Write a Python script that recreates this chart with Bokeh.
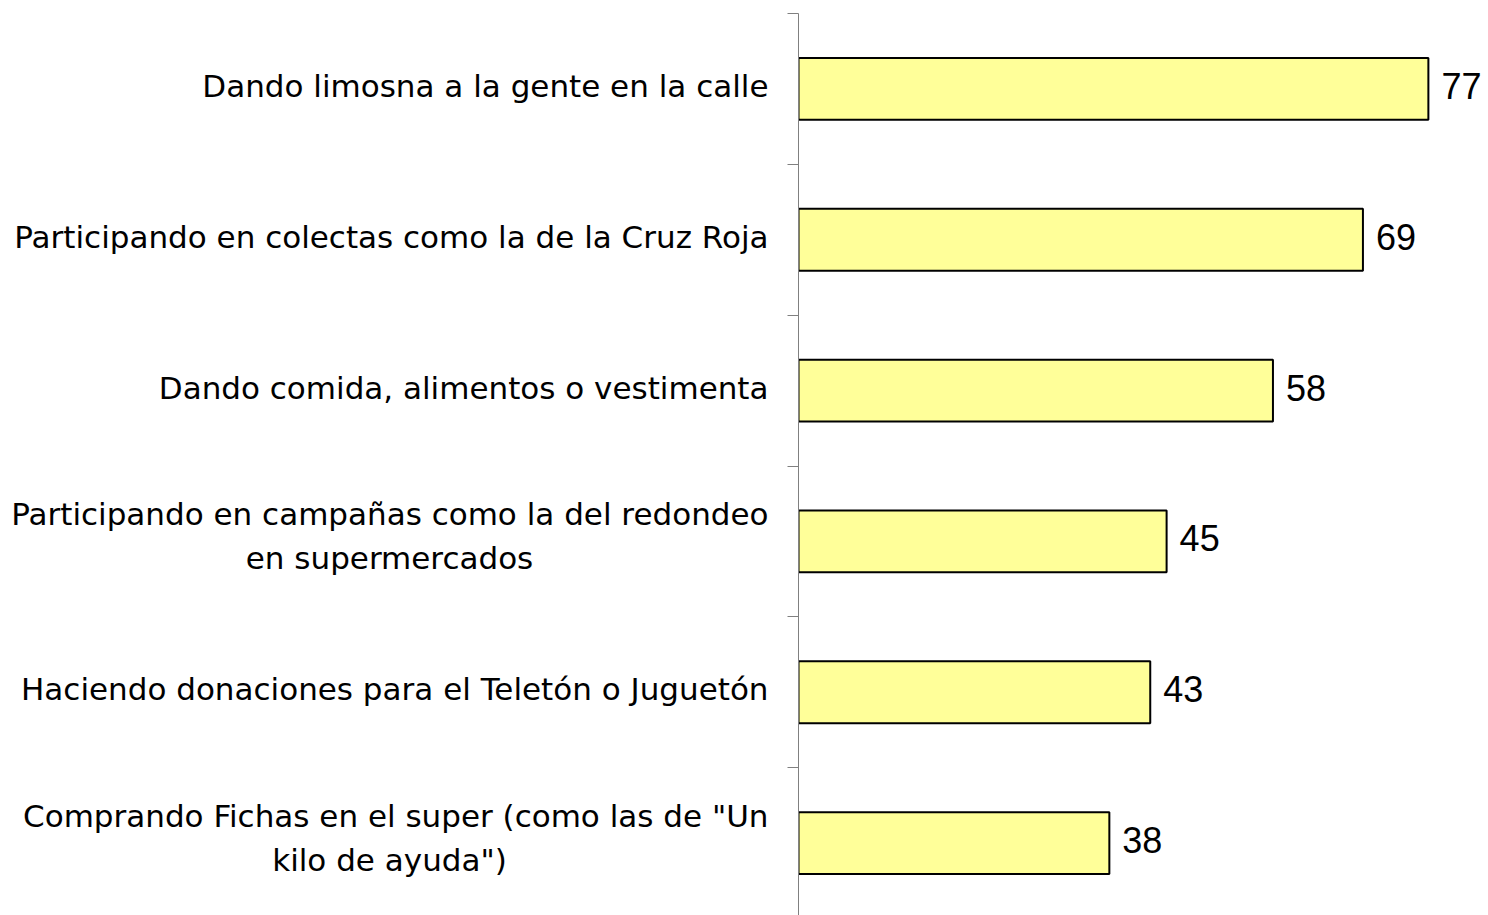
from bokeh.plotting import figure
from bokeh.layouts import row
from bokeh.models import Range1d, FixedTicker, ColumnDataSource
from bokeh.core.properties import value
from bokeh.embed import file_html
from bokeh.resources import INLINE

categories = [
    "Dando limosna a la gente en la calle",
    "Participando en colectas como la de la Cruz Roja",
    "Dando comida, alimentos o vestimenta",
    "Participando en campañas como la del redondeo\nen supermercados",
    "Haciendo donaciones para el Teletón o Juguetón",
    "Comprando Fichas en el super (como las de \"Un\nkilo de ayuda\")",
]
values = [77, 69, 58, 45, 43, 38]
value_labels = [str(v) for v in values]

n = len(categories)
ypos = [n - 1 - i for i in range(n)]

source = ColumnDataSource(dict(y=ypos, values=values, labels=value_labels))

# split category labels into single-line and two-line parts
single = dict(y=[], text=[])
first = dict(y=[], text=[])
second = dict(y=[], text=[])
for cat, y in zip(categories, ypos):
    parts = cat.split("\n")
    if len(parts) == 1:
        single["y"].append(y); single["text"].append(parts[0])
    else:
        first["y"].append(y); first["text"].append(parts[0])
        second["y"].append(y); second["text"].append(parts[1])
for d in (single, first, second):
    d["x"] = [0] * len(d["y"])

y_range = Range1d(-0.48, n - 0.5)

# left panel: category labels
lp = figure(width=778, height=915, output_backend="svg", toolbar_location=None,
            x_range=Range1d(-1, 0), y_range=y_range,
            x_axis_location=None, y_axis_location=None,
            min_border_left=0, min_border_right=0, min_border_top=13, min_border_bottom=0)
lp.outline_line_color = None
lp.xgrid.visible = False
lp.ygrid.visible = False
lp.background_fill_color = "white"
lp.border_fill_color = "white"

font_kw = dict(text_font=value("DejaVu Sans"), text_font_size="31px", text_color="black",
               text_baseline="middle")
lp.text(x="x", y="y", text="text", source=ColumnDataSource(single),
        x_offset=-10, y_offset=-3, text_align="right", **font_kw)
lp.text(x="x", y="y", text="text", source=ColumnDataSource(first),
        x_offset=-10, y_offset=-27, text_align="right", **font_kw)
lp.text(x="x", y="y", text="text", source=ColumnDataSource(second),
        x_offset=-389, y_offset=17, text_align="center", **font_kw)

# right panel: bars
p = figure(width=710, height=915, output_backend="svg", toolbar_location=None,
           x_range=Range1d(0, 84.35), y_range=y_range,
           x_axis_location=None,
           min_border_left=20, min_border_right=0, min_border_top=13, min_border_bottom=0)
p.background_fill_color = "white"
p.border_fill_color = "white"
p.outline_line_color = None
p.xgrid.visible = False
p.ygrid.visible = False

p.hbar(y="y", left=0, right="values", height=0.41, source=source,
       fill_color="#FFFF99", line_color="black", line_width=2)

p.text(x="values", y="y", text="labels", source=source,
       x_offset=13, y_offset=-3, text_baseline="middle", text_align="left",
       text_font=value("Liberation Sans"), text_font_size="36px", text_color="black")

ticks = [k + 0.5 for k in range(-1, n)]
yax = p.yaxis[0]
yax.ticker = FixedTicker(ticks=ticks)
yax.major_label_overrides = {t: "" for t in ticks}
yax.major_label_standoff = 0
yax.major_tick_out = 11
yax.major_tick_in = 0
yax.minor_tick_line_color = None
yax.axis_line_color = "#808080"
yax.major_tick_line_color = "#808080"

layout = row(lp, p, spacing=0)
open("out.html", "w").write(file_html(layout, INLINE))
